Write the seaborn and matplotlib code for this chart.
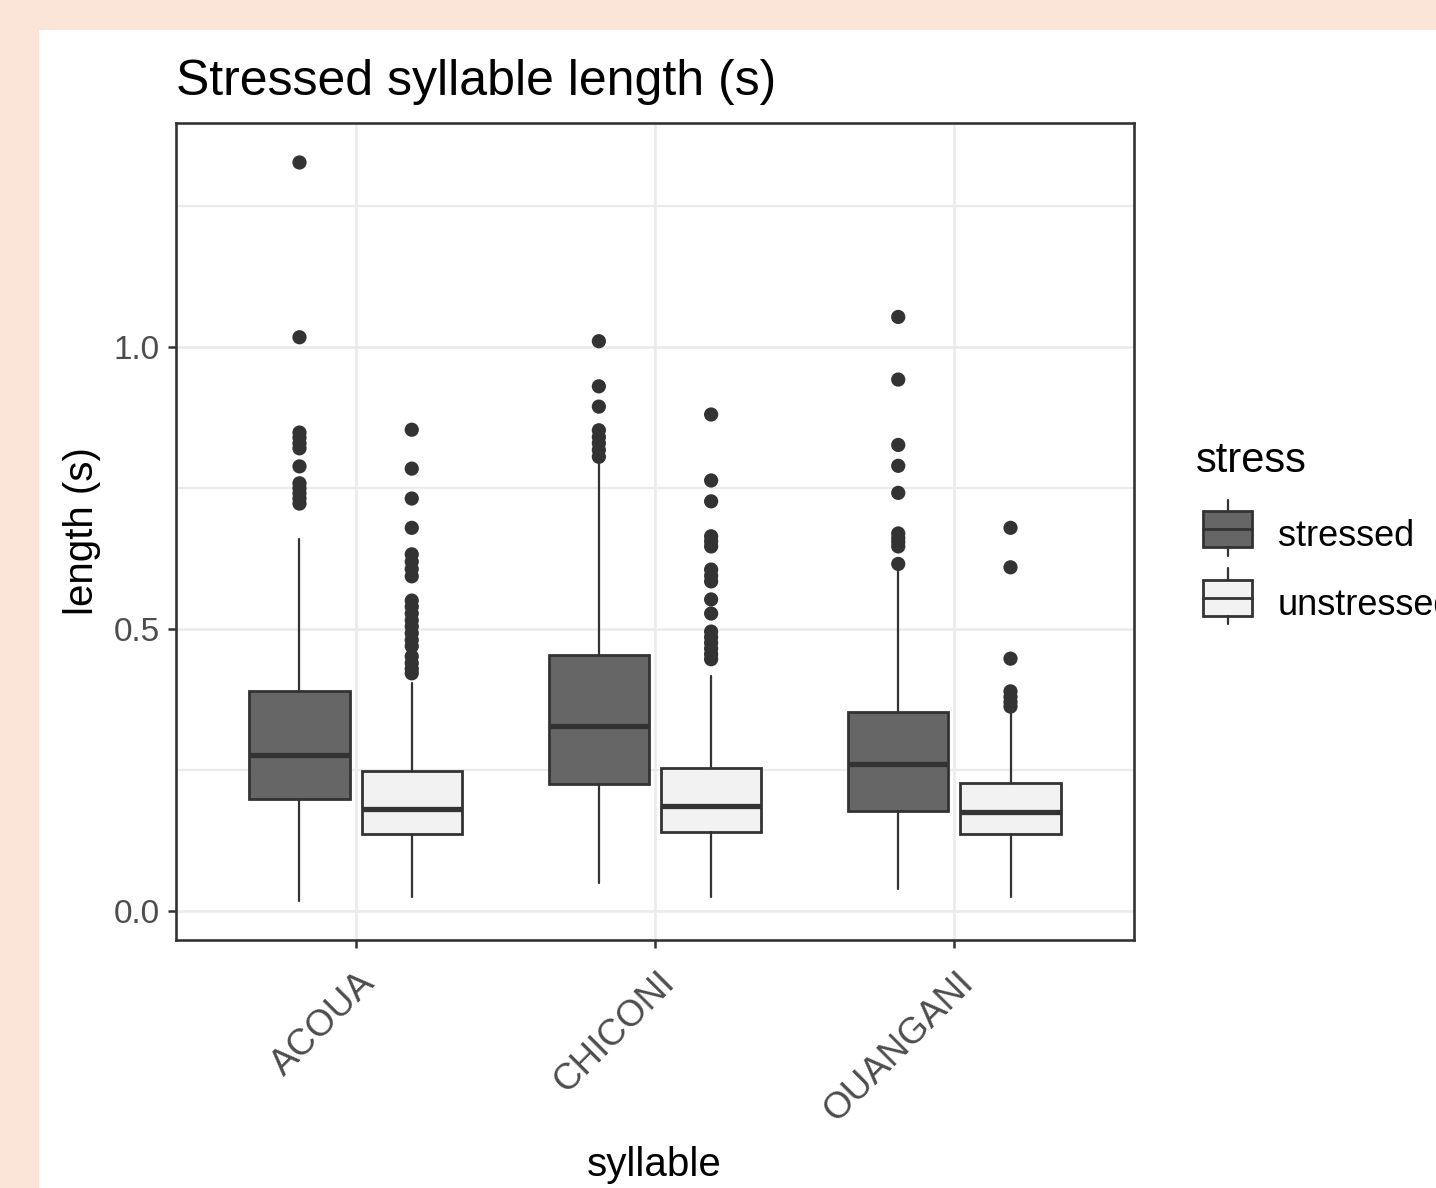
import matplotlib
matplotlib.use("Agg")
import matplotlib.pyplot as plt
from matplotlib.patches import Rectangle
from matplotlib.lines import Line2D
from matplotlib.transforms import ScaledTranslation
import seaborn as sns
import pandas as pd

# categories
syllables = ["ACOUA", "CHICONI", "OUANGANI"]
stress_levels = ["stressed", "unstressed"]

# box statistics (one value per syllable)
stressed_low = [0.018, 0.050, 0.040]
stressed_q1 = [0.199, 0.225, 0.178]
stressed_med = [0.277, 0.329, 0.261]
stressed_q3 = [0.391, 0.454, 0.353]
stressed_high = [0.661, 0.794, 0.605]

unstressed_low = [0.025, 0.025, 0.025]
unstressed_q1 = [0.137, 0.141, 0.137]
unstressed_med = [0.181, 0.187, 0.176]
unstressed_q3 = [0.249, 0.254, 0.227]
unstressed_high = [0.405, 0.418, 0.351]

# outliers
stressed_outliers = [
    [1.328, 1.018, 0.849, 0.840, 0.830, 0.821, 0.789, 0.759, 0.750, 0.741, 0.732, 0.723],
    [1.011, 0.931, 0.895, 0.853, 0.841, 0.830, 0.818, 0.806],
    [1.054, 0.943, 0.827, 0.790, 0.742, 0.670, 0.662, 0.655, 0.647, 0.616],
]
unstressed_outliers = [
    [0.854, 0.785, 0.732, 0.680, 0.633, 0.620, 0.607, 0.594, 0.551, 0.540, 0.528,
     0.516, 0.505, 0.493, 0.481, 0.470, 0.452, 0.440, 0.430, 0.422],
    [0.881, 0.764, 0.727, 0.665, 0.656, 0.647, 0.606, 0.595, 0.585, 0.553, 0.528,
     0.496, 0.486, 0.476, 0.466, 0.456, 0.447],
    [0.680, 0.610, 0.448, 0.390, 0.380, 0.371, 0.363],
]

W, H = 1436, 1188
INK = "#333333"
fills = {"stressed": "#666666", "unstressed": "#F2F2F2"}
offsets = {"stressed": -0.1875, "unstressed": 0.1875}

sns.set_theme(style="white")
plt.rcParams["font.family"] = ["Liberation Sans", "DejaVu Sans"]

fig = plt.figure(figsize=(W / 100, H / 100), dpi=100, facecolor="#FAE5D8")
fig.add_artist(Rectangle((39 / W, 0), 1 - 39 / W, 1 - 30 / H, transform=fig.transFigure,
                         facecolor="white", edgecolor="none", zorder=-1))

ax = fig.add_axes([176 / W, (H - 940) / H, (1134 - 176) / W, (940 - 123) / H])
ax.set_facecolor("white")

stats_by_level = {
    "stressed": (stressed_low, stressed_q1, stressed_med, stressed_q3, stressed_high, stressed_outliers),
    "unstressed": (unstressed_low, unstressed_q1, unstressed_med, unstressed_q3, unstressed_high, unstressed_outliers),
}

rows = []
for level in stress_levels:
    lo, q1, med, q3, hi, outs = stats_by_level[level]
    stats = []
    for i in range(len(syllables)):
        stats.append({"whislo": lo[i], "q1": q1[i], "med": med[i], "q3": q3[i],
                      "whishi": hi[i], "fliers": []})
        for v in outs[i]:
            rows.append({"pos": i + offsets[level], "length": v, "stress": level})
    positions = [i + offsets[level] for i in range(len(syllables))]
    ax.bxp(stats, positions=positions, widths=0.335, patch_artist=True,
           showcaps=False, showfliers=False, manage_ticks=False,
           boxprops=dict(facecolor=fills[level], edgecolor=INK, linewidth=2.0),
           medianprops=dict(color=INK, linewidth=3.8, solid_capstyle="butt"),
           whiskerprops=dict(color=INK, linewidth=1.6))

outliers = pd.DataFrame(rows)
sns.scatterplot(data=outliers, x="pos", y="length", color=INK, s=105,
                edgecolor="none", legend=False, ax=ax, zorder=3)

ax.set_xlim(-0.6, 2.6)
ax.set_ylim(-0.051, 1.398)
ax.set_xticks(range(len(syllables)))
ax.set_xticklabels(syllables)
ax.set_yticks([0.0, 0.5, 1.0])
ax.set_yticklabels(["0.0", "0.5", "1.0"])
ax.set_yticks([0.25, 0.75, 1.25], minor=True)
ax.set_xlabel("")
ax.set_ylabel("")
ax.grid(which="major", color="#EBEBEB", linewidth=1.9)
ax.grid(which="minor", axis="y", color="#EBEBEB", linewidth=1.6)
ax.set_axisbelow(True)
for sp in ax.spines.values():
    sp.set_visible(True)
    sp.set_color(INK)
    sp.set_linewidth(1.9)
    sp.set_zorder(5)

ax.tick_params(which="major", direction="out", length=6, width=1.8, color=INK,
               labelcolor="#4D4D4D", labelsize=24, left=True, bottom=True)
ax.tick_params(which="minor", length=0)
ax.tick_params(axis="y", pad=5.5)
ax.tick_params(axis="x", pad=12, labelsize=26.5)
shift = ScaledTranslation(0.26, 0, fig.dpi_scale_trans)
for lab in ax.get_xticklabels():
    lab.set_rotation(45)
    lab.set_ha("right")
    lab.set_va("top")
    lab.set_transform(lab.get_transform() + shift)

# overlay in pixel coordinates for titles and legend
lay = fig.add_axes([0, 0, 1, 1], zorder=3)
lay.set_xlim(0, W)
lay.set_ylim(H, 0)
lay.axis("off")
lay.patch.set_alpha(0)

lay.text(176, 95, "Stressed syllable length (s)", fontsize=36, color="black",
         ha="left", va="baseline")
lay.text(82, 531, "length (s)", fontsize=29, color="black", rotation=90,
         ha="center", va="center")
lay.text(654, 1165, "syllable", fontsize=29, color="black", ha="center", va="center")

lay.text(1196, 472, "stress", fontsize=30, color="black", ha="left", va="baseline")
key_boxes = [("stressed", 511, 547, 500, 556, 546), ("unstressed", 580, 616, 568, 624, 615)]
for level, top, bot, wtop, wbot, base in key_boxes:
    lay.add_patch(Rectangle((1203, top), 49, bot - top, facecolor=fills[level],
                            edgecolor=INK, linewidth=2.0))
    lay.add_line(Line2D([1203, 1252], [(top + bot) / 2] * 2, color=INK, linewidth=2.0))
    lay.add_line(Line2D([1227.5, 1227.5], [wtop, top], color=INK, linewidth=1.6))
    lay.add_line(Line2D([1227.5, 1227.5], [bot, wbot], color=INK, linewidth=1.6))
    lay.text(1278, base, level, fontsize=26, color="black", ha="left", va="baseline")

fig.savefig("out.png", dpi=100, facecolor=fig.get_facecolor())
